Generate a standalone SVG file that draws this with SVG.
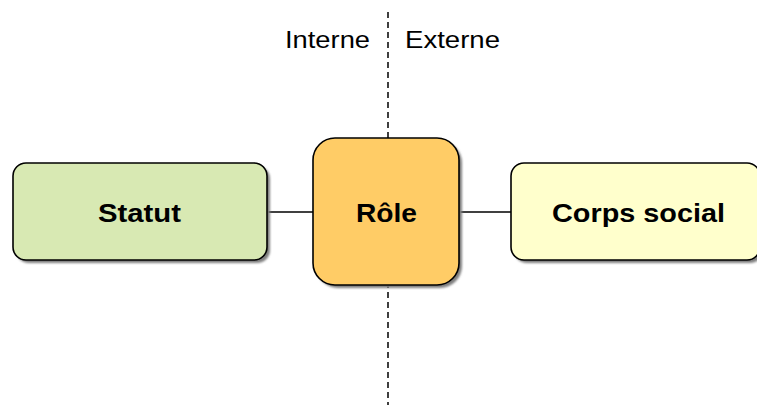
<svg xmlns="http://www.w3.org/2000/svg" width="757" height="405" viewBox="0 0 757 405">
  <style>
    .box { stroke: #000; stroke-width: 1.6; }
    .shadow { fill: #7f7f7f; }
    .lbl { font-family: "Liberation Sans", Arial, sans-serif; font-weight: bold; font-size: 26px; fill: #000; }
    .side { font-family: "Liberation Sans", Arial, sans-serif; font-size: 23px; fill: #000; }
    .link { stroke: #000; stroke-width: 1.3; fill: none; }
    .divider { stroke: #000; stroke-width: 1.5; stroke-dasharray: 6 4; fill: none; }
  </style>
  <defs>
    <filter id="soft" x="-10%" y="-10%" width="130%" height="130%">
      <feGaussianBlur stdDeviation="1"/>
    </filter>
  </defs>
  <rect width="757" height="405" fill="#fff"/>

  <!-- internal / external divider -->
  <line class="divider" x1="388" y1="12" x2="388" y2="405"/>
  <text class="side" x="285" y="48" textLength="85" lengthAdjust="spacingAndGlyphs">Interne</text>
  <text class="side" x="405" y="48" textLength="95" lengthAdjust="spacingAndGlyphs">Externe</text>

  <g id="connectors">
    <line class="link" x1="267" y1="212" x2="313" y2="212"/>
    <line class="link" x1="459" y1="212" x2="511" y2="212"/>
  </g>

  <g id="statut">
    <rect class="shadow" x="16" y="166" width="254" height="97" rx="13" filter="url(#soft)"/>
    <rect class="box" x="13" y="163" width="254" height="97" rx="13" fill="#d8e9b3"/>
    <text class="lbl" x="98" y="222" textLength="83" lengthAdjust="spacingAndGlyphs">Statut</text>
  </g>

  <g id="role">
    <rect class="shadow" x="316" y="141" width="146" height="147" rx="22" filter="url(#soft)"/>
    <rect class="box" x="313" y="138" width="146" height="147" rx="22" fill="#ffcc66"/>
    <text class="lbl" x="356" y="222" textLength="61" lengthAdjust="spacingAndGlyphs">Rôle</text>
  </g>

  <g id="corps-social">
    <rect class="shadow" x="514" y="166" width="249" height="97" rx="13" filter="url(#soft)"/>
    <rect class="box" x="511" y="163" width="249" height="97" rx="13" fill="#ffffcc"/>
    <text class="lbl" x="552" y="222" textLength="173" lengthAdjust="spacingAndGlyphs">Corps social</text>
  </g>
</svg>
